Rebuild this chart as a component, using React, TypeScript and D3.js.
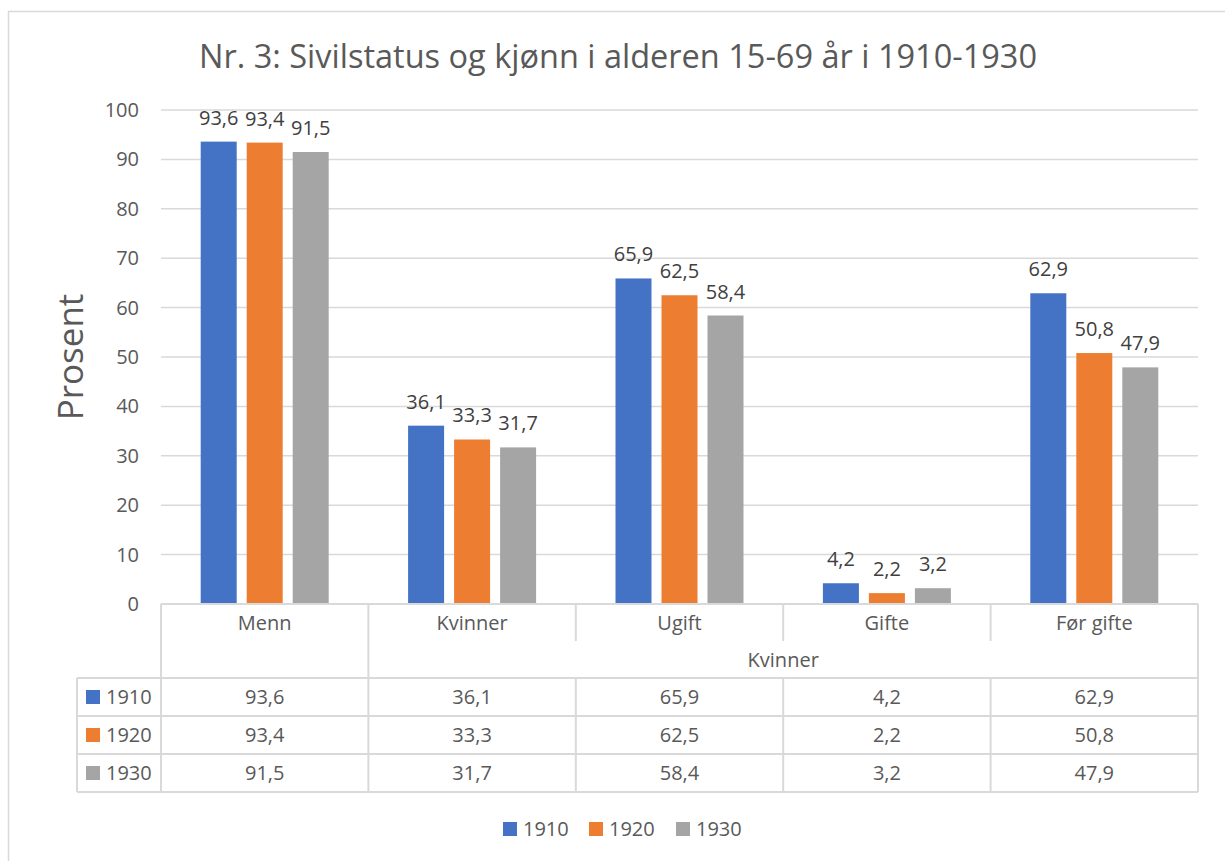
import React from "react";
import * as d3 from "d3";

const categories = ["Menn", "Kvinner", "Ugift", "Gifte", "Før gifte"];
const seriesNames = ["1910", "1920", "1930"];
const values1910 = [93.6, 36.1, 65.9, 4.2, 62.9];
const values1920 = [93.4, 33.3, 62.5, 2.2, 50.8];
const values1930 = [91.5, 31.7, 58.4, 3.2, 47.9];
const yTicks = [0, 10, 20, 30, 40, 50, 60, 70, 80, 90, 100];
const colors = ["#4472C4", "#ED7D31", "#A5A5A5"];
const title = "Nr. 3: Sivilstatus og kjønn i alderen 15-69 år i 1910-1930";
const groupLabel = "Kvinner";

const series = [values1910, values1920, values1930];
const fmt = (v: number) => v.toFixed(1).replace(".", ",");

export default function App() {
  const W = 1225, H = 861;
  const left = 161, right = 1198, top = 110, bottom = 604;
  const font = "'Open Sans', 'Noto Sans', sans-serif";
  const x = d3.scaleBand<string>().domain(categories).range([left, right]);
  const y = d3.scaleLinear().domain([0, 100]).range([bottom, top]);
  const inner = d3.scaleBand<string>().domain(seriesNames).range([0, 128]).paddingInner(10 / 46);
  const grid = "#d9d9d9";
  const textCol = "#595959";
  const rowTop = 678, rowH = 38, tableLeft = 77;
  const catRowMid = 623;
  const fs = 20;

  return (
    <svg width={W} height={H} style={{ position: "absolute", left: 0, top: 0, display: "block" }} fontFamily={font}>
      <rect x={0} y={0} width={W} height={H} fill="#fff" />
      <rect x={8.5} y={11.5} width={W + 20} height={H + 20} fill="none" stroke={grid} strokeWidth={1.5} />
      <text x={618} y={68} textAnchor="middle" fontSize={32.5} fill={textCol}>{title}</text>
      {yTicks.map((t) => (
        <g key={t}>
          <line x1={left} x2={right} y1={y(t)} y2={y(t)} stroke={grid} strokeWidth={1.5} />
          <text x={139} y={y(t)} dy="0.35em" textAnchor="end" fontSize={fs} fill={textCol}>{t}</text>
        </g>
      ))}
      <text transform={`translate(83,357) rotate(-90)`} textAnchor="middle" fontSize={35} fill={textCol}>Prosent</text>
      {categories.map((c, ci) => {
        const gx = (x(c) as number) + (x.bandwidth() - 128) / 2;
        return series.map((s, si) => {
          const bx = gx + (inner(seriesNames[si]) as number);
          const bw = inner.bandwidth();
          return (
            <g key={c + si}>
              <rect x={bx} y={y(s[ci])} width={bw} height={bottom - y(s[ci])} fill={colors[si]} />
              <text x={bx + bw / 2} y={y(s[ci]) - 17} textAnchor="middle" fontSize={fs} fill="#404040">{fmt(s[ci])}</text>
            </g>
          );
        });
      })}
      {/* table */}
      <line x1={left} x2={right} y1={bottom} y2={bottom} stroke={grid} strokeWidth={2} />
      {categories.map((c) => (
        <text key={c} x={(x(c) as number) + x.bandwidth() / 2} y={catRowMid} dy="0.35em" textAnchor="middle" fontSize={fs} fill={textCol}>{c}</text>
      ))}
      {categories.slice(1).map((c, ci) => {
        const xx = x(c) as number;
        return <line key={"v" + c} x1={xx} x2={xx} y1={bottom} y2={ci === 0 ? rowTop + rowH * 3 : 641} stroke={grid} strokeWidth={2} />;
      })}
      <text x={((x(categories[1]) as number) + right) / 2} y={660} dy="0.35em" textAnchor="middle" fontSize={fs} fill={textCol}>{groupLabel}</text>
      {categories.slice(2).map((c) => {
        const xx = x(c) as number;
        return <line key={"vb" + c} x1={xx} x2={xx} y1={rowTop} y2={rowTop + rowH * 3} stroke={grid} strokeWidth={2} />;
      })}
      <line x1={left} x2={left} y1={bottom} y2={rowTop + rowH * 3} stroke={grid} strokeWidth={2} />
      <line x1={right} x2={right} y1={bottom} y2={rowTop + rowH * 3} stroke={grid} strokeWidth={2} />
      <line x1={tableLeft} x2={tableLeft} y1={rowTop} y2={rowTop + rowH * 3} stroke={grid} strokeWidth={2} />
      {[0, 1, 2, 3].map((r) => (
        <line key={"h" + r} x1={tableLeft} x2={right} y1={rowTop + rowH * r} y2={rowTop + rowH * r} stroke={grid} strokeWidth={2} />
      ))}
      {series.map((s, si) => {
        const cy = rowTop + rowH * si + rowH / 2;
        return (
          <g key={"row" + si}>
            <rect x={86} y={cy - 7} width={14} height={14} fill={colors[si]} />
            <text x={106} y={cy} dy="0.35em" fontSize={fs} fill={textCol}>{seriesNames[si]}</text>
            {categories.map((c, ci) => (
              <text key={c} x={(x(c) as number) + x.bandwidth() / 2} y={cy} dy="0.35em" textAnchor="middle" fontSize={fs} fill={textCol}>{fmt(s[ci])}</text>
            ))}
          </g>
        );
      })}
      {/* legend */}
      {seriesNames.map((n, i) => {
        const lx = [503, 589, 676][i];
        return (
          <g key={"lg" + n}>
            <rect x={lx} y={822} width={14} height={14} fill={colors[i]} />
            <text x={lx + 20} y={829} dy="0.35em" fontSize={fs} fill={textCol}>{n}</text>
          </g>
        );
      })}
    </svg>
  );
}
